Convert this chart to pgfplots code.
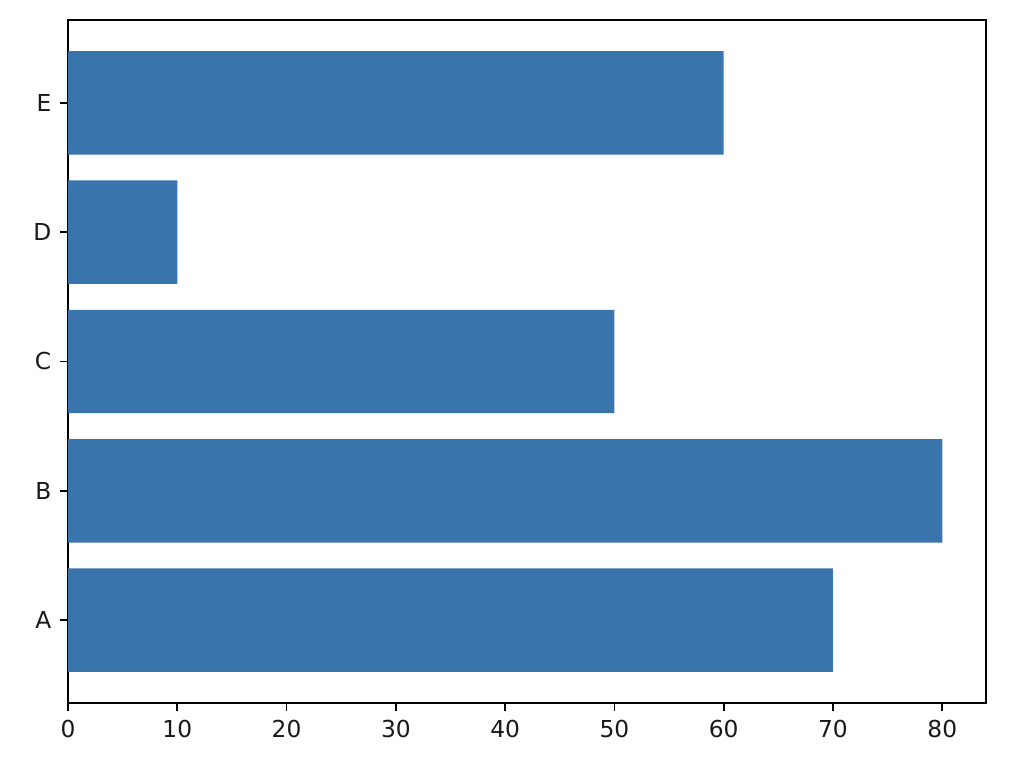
\documentclass[border=0pt]{standalone}
\usepackage{pgfplots}
\pgfplotsset{compat=1.18}
\usepackage{fontspec}
\setmainfont{DejaVu Sans}
\definecolor{barblue}{HTML}{3A74AD}
\begin{document}
\begin{tikzpicture}
\useasboundingbox (0,0) rectangle (460.8pt,343.35pt);
\begin{axis}[
  at={(30.6pt,27pt)}, anchor=south west,
  scale only axis, width=413.1pt, height=307.35pt,
  xbar, bar width=0.8,
  xmin=0, xmax=84,
  ymin=-0.64, ymax=4.64,
  ytick={0,1,2,3,4},
  yticklabels={A,B,C,D,E},
  xtick={0,10,20,30,40,50,60,70,80},
  tick align=outside, tick pos=left,
  major tick length=3.5pt,
  axis line style={line width=0.8pt},
  every tick/.style={black, line width=0.8pt},
  tick label style={font=\fontsize{10.5}{12}\selectfont, color=black!90},
  /pgf/number format/assume math mode=true,
  xticklabel style={yshift=-0.5pt},
  yticklabel style={xshift=-0.5pt},
]
\addplot[fill=barblue, draw=none] coordinates {(70,0) (80,1) (50,2) (10,3) (60,4)};
\end{axis}
\end{tikzpicture}
\end{document}
